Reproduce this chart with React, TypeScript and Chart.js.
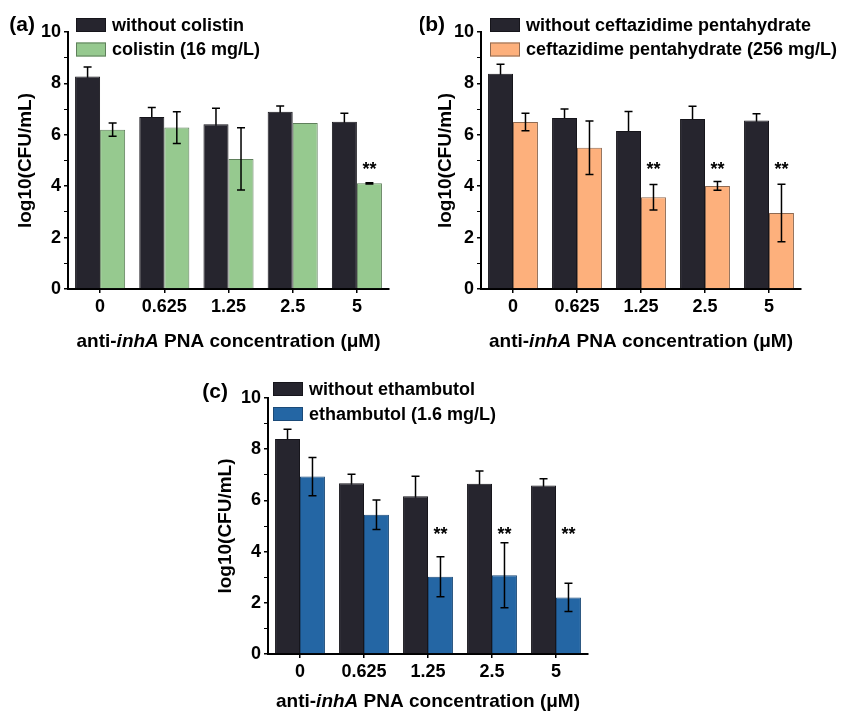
import React, { useEffect, useRef } from 'react';
import { Chart, registerables } from 'chart.js';

Chart.register(...registerables);

// ---------- data ----------
const categories = ['0', '0.625', '1.25', '2.5', '5'];
const yTickValues = [0, 2, 4, 6, 8, 10];

const controlLabelA = 'without colistin';
const treatLabelA = 'colistin (16 mg/L)';
const controlA = [8.27, 6.69, 6.41, 6.9, 6.51];
const controlErrA = [0.37, 0.37, 0.62, 0.22, 0.33];
const treatA = [6.2, 6.28, 5.06, 6.46, 4.11];
const treatErrA = [0.26, 0.62, 1.21, 0, 0.02];
const sigA = ['', '', '', '', '**'];

const controlLabelB = 'without ceftazidime pentahydrate';
const treatLabelB = 'ceftazidime pentahydrate (256 mg/L)';
const controlB = [8.38, 6.65, 6.15, 6.61, 6.56];
const controlErrB = [0.37, 0.35, 0.76, 0.5, 0.26];
const treatB = [6.5, 5.5, 3.57, 4.01, 2.96];
const treatErrB = [0.34, 1.04, 0.5, 0.17, 1.12];
const sigB = ['', '', '**', '**', '**'];

const controlLabelC = 'without ethambutol';
const treatLabelC = 'ethambutol (1.6 mg/L)';
const controlC = [8.4, 6.67, 6.16, 6.65, 6.58];
const controlErrC = [0.38, 0.35, 0.78, 0.5, 0.27];
const treatC = [6.93, 5.44, 3.02, 3.08, 2.21];
const treatErrC = [0.75, 0.58, 0.78, 1.27, 0.55];
const sigC = ['', '', '**', '**', '**'];

const sigLevel = 4.8;

const yTitle = 'log10(CFU/mL)';
const xTitleParts = [
  { text: 'anti-', italic: false },
  { text: 'inhA', italic: true },
  { text: ' PNA concentration (\u03bcM)', italic: false },
];

// ---------- styles ----------
const FONT = "'Liberation Sans', Arial, Helvetica, sans-serif";
const controlColor = '#26252e';
const controlBorder = '#16151b';

type PanelProps = {
  label: string;
  controlLabel: string;
  treatLabel: string;
  control: number[];
  controlErr: number[];
  treat: number[];
  treatErr: number[];
  sig: string[];
  treatColor: string;
  treatBorder: string;
  geo: {
    left: number; top: number; w: number; h: number;
    axisLeft: number; chartTop: number; chartBottom: number; chartRight: number;
    titleY: number; labelRight: number; labelY: number;
    legendX: number; legendRow1: number; legendRow2: number;
  };
};

function drawErrors(chart: any, d: number, vals: number[], errs: number[]) {
  const ctx = chart.ctx as CanvasRenderingContext2D;
  const ys = chart.scales.y;
  const meta = chart.getDatasetMeta(d);
  ctx.save();
  ctx.strokeStyle = '#000';
  ctx.lineWidth = 1.5;
  meta.data.forEach((bar: any, i: number) => {
    const v = vals[i];
    const e = errs[i];
    if (!e) return;
    const x = bar.x;
    const yHi = ys.getPixelForValue(v + e);
    const yLo = ys.getPixelForValue(v - e);
    ctx.beginPath();
    ctx.moveTo(x, yHi);
    ctx.lineTo(x, yLo);
    ctx.moveTo(x - 4, yHi);
    ctx.lineTo(x + 4, yHi);
    ctx.moveTo(x - 4, yLo);
    ctx.lineTo(x + 4, yLo);
    ctx.stroke();
  });
  ctx.restore();
}

function Panel(p: PanelProps) {
  const ref = useRef<HTMLCanvasElement | null>(null);
  useEffect(() => {
    if (!ref.current) return;
    const g = p.geo;
    const extras = {
      id: 'extras',
      beforeDatasetsDraw(chart: any) {
        // control error bars sit behind the dark bars (only upper half shows)
        drawErrors(chart, 0, p.control, p.controlErr);
      },
      afterDatasetsDraw(chart: any) {
        drawErrors(chart, 1, p.treat, p.treatErr);
        const ctx = chart.ctx as CanvasRenderingContext2D;
        const ys = chart.scales.y;
        const tmeta = chart.getDatasetMeta(1);
        ctx.save();
        ctx.fillStyle = '#000';
        ctx.font = `bold 18px ${FONT}`;
        ctx.textAlign = 'center';
        ctx.textBaseline = 'middle';
        tmeta.data.forEach((bar: any, i: number) => {
          if (!p.sig[i]) return;
          ctx.fillText(p.sig[i], bar.x, ys.getPixelForValue(sigLevel) + 4);
        });
        ctx.restore();
      },
      afterDraw(chart: any) {
        const ctx = chart.ctx as CanvasRenderingContext2D;
        const area = chart.chartArea;
        ctx.save();
        // legend
        const items = [
          { text: p.controlLabel, fill: controlColor, stroke: controlBorder, y: area.top + g.legendRow1 },
          { text: p.treatLabel, fill: p.treatColor, stroke: p.treatBorder, y: area.top + g.legendRow2 },
        ];
        ctx.font = `bold 18px ${FONT}`;
        ctx.textAlign = 'left';
        ctx.textBaseline = 'middle';
        items.forEach((it) => {
          ctx.fillStyle = it.fill;
          ctx.fillRect(g.legendX, it.y - 7, 30, 14);
          ctx.strokeStyle = it.stroke;
          ctx.lineWidth = 1;
          ctx.strokeRect(g.legendX + 0.5, it.y - 6.5, 29, 13);
          ctx.fillStyle = '#000';
          ctx.fillText(it.text, g.legendX + 36, it.y + 1);
        });
        // panel label
        ctx.font = `bold 21px ${FONT}`;
        ctx.textAlign = 'right';
        ctx.fillText(p.label, g.labelRight, g.labelY);
        // x title with italic part
        const fonts = xTitleParts.map((part) => `${part.italic ? 'italic ' : ''}bold 19px ${FONT}`);
        let total = 0;
        const widths = xTitleParts.map((part, i) => {
          ctx.font = fonts[i];
          const w = ctx.measureText(part.text).width;
          total += w;
          return w;
        });
        let x = (area.left + area.right) / 2 - total / 2;
        ctx.textAlign = 'left';
        xTitleParts.forEach((part, i) => {
          ctx.font = fonts[i];
          ctx.fillText(part.text, x, g.titleY);
          x += widths[i];
        });
        ctx.restore();
      },
    };

    const chart = new Chart(ref.current, {
      type: 'bar',
      data: {
        labels: categories,
        datasets: [
          {
            label: p.controlLabel,
            data: p.control,
            backgroundColor: controlColor,
            borderColor: controlBorder,
            borderWidth: 1,
          },
          {
            label: p.treatLabel,
            data: p.treat,
            backgroundColor: p.treatColor,
            borderColor: p.treatBorder,
            borderWidth: 1,
          },
        ],
      },
      options: {
        animation: false,
        responsive: false,
        devicePixelRatio: 1,
        categoryPercentage: 0.78,
        barPercentage: 1.0,
        layout: {
          padding: { top: g.chartTop, left: 0, right: g.w - g.chartRight, bottom: 0 },
        },
        plugins: {
          legend: { display: false },
          tooltip: { enabled: false },
        },
        scales: {
          x: {
            offset: true,
            grid: {
              offset: false,
              drawOnChartArea: false,
              drawTicks: true,
              tickLength: 4,
              color: '#000',
              lineWidth: 1.5,
            },
            border: { display: true, color: '#000', width: 2 },
            ticks: {
              color: '#000',
              padding: 3,
              font: { family: FONT, size: 18, weight: 'bold' },
              maxRotation: 0,
            },
            afterFit: (scale: any) => {
              scale.height = g.h - g.chartBottom;
            },
          },
          y: {
            min: 0,
            max: 10,
            grid: {
              drawOnChartArea: false,
              drawTicks: true,
              tickLength: 4,
              color: '#000',
              lineWidth: (c: any) => (c.tick && c.tick.value % 2 === 0 ? 1.5 : 1),
            },
            border: { display: true, color: '#000', width: 2 },
            ticks: {
              stepSize: 1,
              color: '#000',
              padding: 3,
              font: { family: FONT, size: 18, weight: 'bold' },
              callback: (v: any) => (yTickValues.includes(Number(v)) ? String(v) : ''),
            },
            title: {
              display: true,
              text: yTitle,
              color: '#000',
              font: { family: FONT, size: 19, weight: 'bold' },
              padding: { top: 14, bottom: 0 },
            },
            afterFit: (scale: any) => {
              scale.width = g.axisLeft;
            },
          },
        },
      },
      plugins: [extras],
    } as any);
    return () => chart.destroy();
  }, []);

  const g = p.geo;
  return (
    <canvas
      ref={ref}
      width={g.w}
      height={g.h}
      style={{ position: 'absolute', left: g.left, top: g.top, width: g.w, height: g.h, display: 'block' }}
    />
  );
}

export default function App() {
  return (
    <div style={{ position: 'absolute', left: 0, top: 0, width: 842, height: 711, background: '#fff', overflow: 'hidden' }}>
      <Panel
        label="(a)"
        controlLabel={controlLabelA}
        treatLabel={treatLabelA}
        control={controlA}
        controlErr={controlErrA}
        treat={treatA}
        treatErr={treatErrA}
        sig={sigA}
        treatColor="#96c98f"
        treatBorder="#5f7f5b"
        geo={{
          left: 0, top: 0, w: 420, h: 352,
          axisLeft: 68, chartTop: 32, chartBottom: 289, chartRight: 389,
          titleY: 342, labelRight: 35, labelY: 25,
          legendX: 76, legendRow1: -7, legendRow2: 17.5,
        }}
      />
      <Panel
        label="(b)"
        controlLabel={controlLabelB}
        treatLabel={treatLabelB}
        control={controlB}
        controlErr={controlErrB}
        treat={treatB}
        treatErr={treatErrB}
        sig={sigB}
        treatColor="#fdb07c"
        treatBorder="#8e6a52"
        geo={{
          left: 420, top: 0, w: 422, h: 352,
          axisLeft: 61, chartTop: 32, chartBottom: 289, chartRight: 381,
          titleY: 342, labelRight: 25, labelY: 25,
          legendX: 70, legendRow1: -7, legendRow2: 17.5,
        }}
      />
      <Panel
        label="(c)"
        controlLabel={controlLabelC}
        treatLabel={treatLabelC}
        control={controlC}
        controlErr={controlErrC}
        treat={treatC}
        treatErr={treatErrC}
        sig={sigC}
        treatColor="#2466a4"
        treatBorder="#1b4a78"
        geo={{
          left: 200, top: 350, w: 420, h: 361,
          axisLeft: 68, chartTop: 48, chartBottom: 304, chartRight: 388,
          titleY: 352, labelRight: 28, labelY: 42,
          legendX: 73, legendRow1: -9, legendRow2: 16,
        }}
      />
    </div>
  );
}
